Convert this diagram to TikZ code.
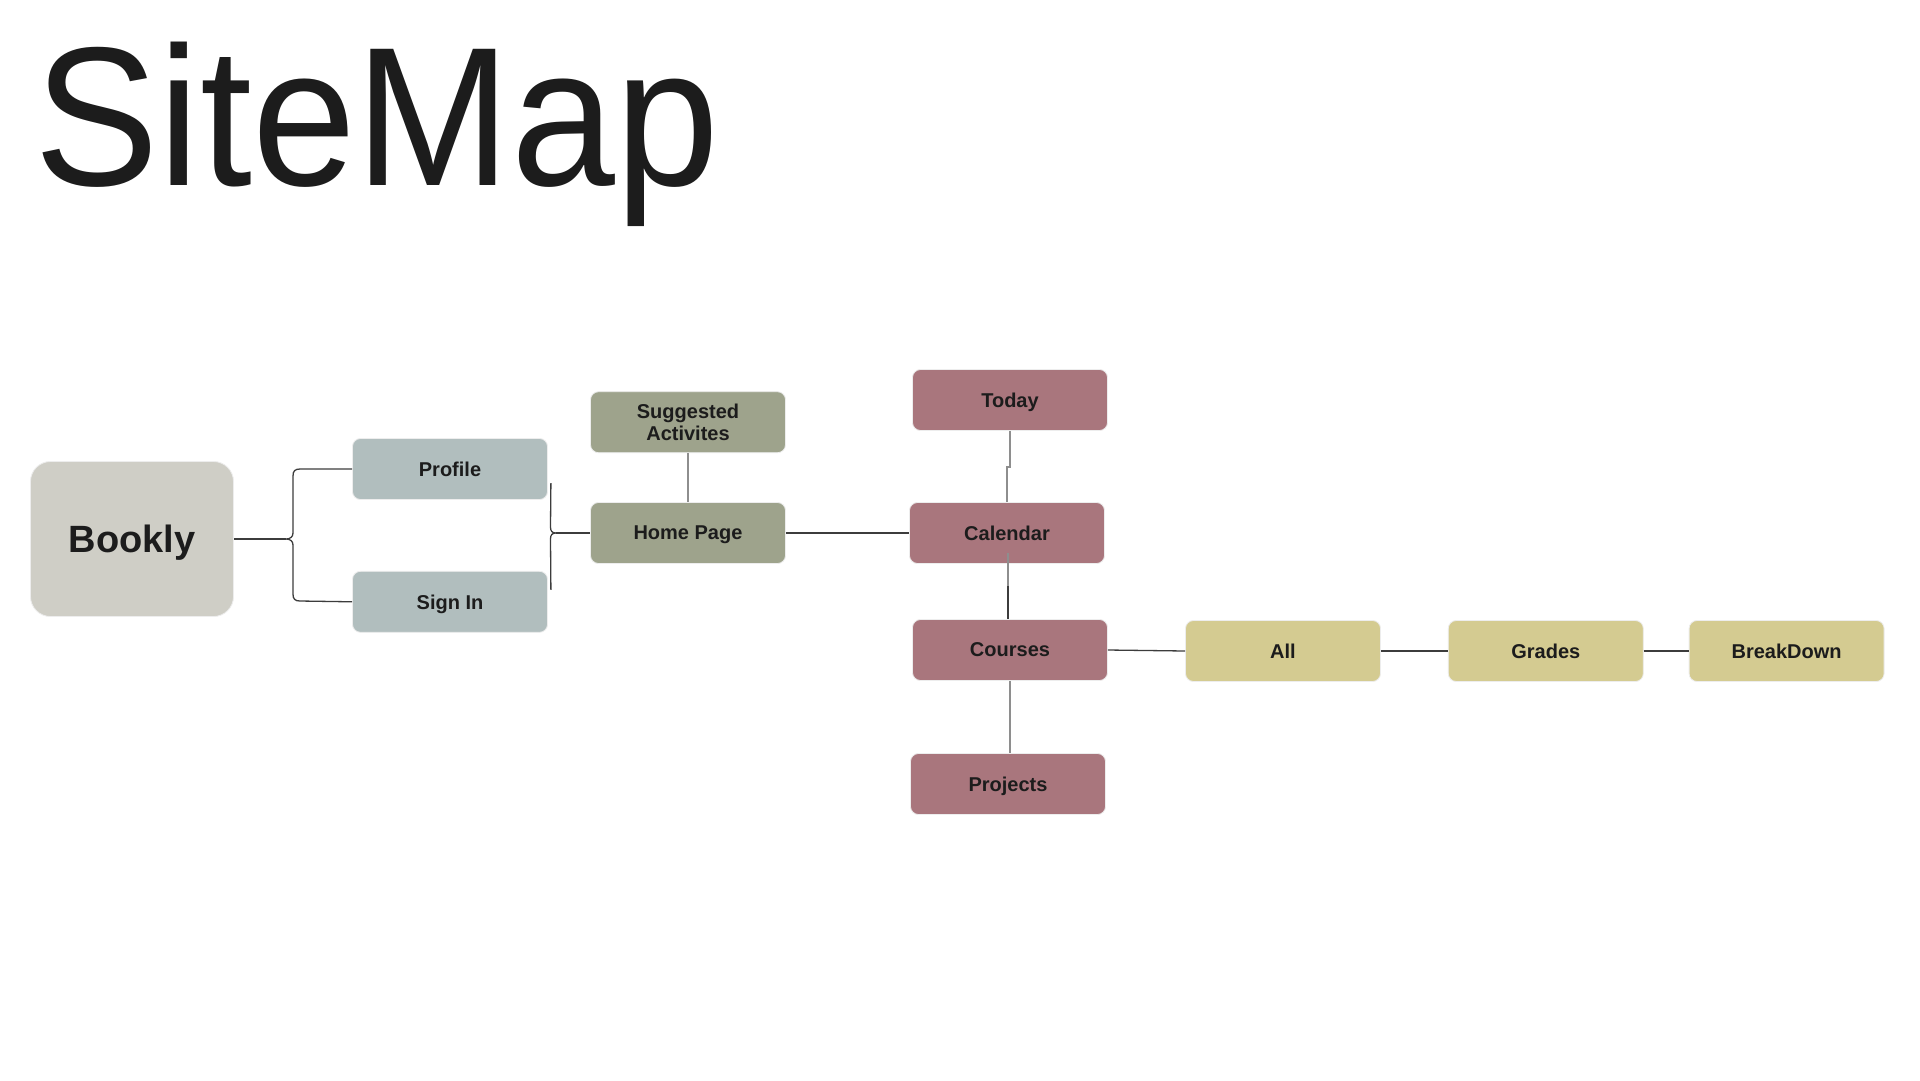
\documentclass[tikz,border=0pt]{standalone}
\usepackage{fontspec}
\setmainfont{Liberation Sans}
\usepackage{graphicx}
\usepackage{tikz}
\usetikzlibrary{positioning, calc}
\definecolor{bookgray}{HTML}{CFCEC6}
\definecolor{usergray}{HTML}{B1BEBE}
\definecolor{homegreen}{HTML}{9EA38C}
\definecolor{calrose}{HTML}{A9767D}
\definecolor{gradekhaki}{HTML}{D4CB91}
\definecolor{inkdark}{HTML}{1C1C1C}
\definecolor{linkdark}{HTML}{3C3C3C}
\definecolor{linkgray}{HTML}{8E8E8E}
\tikzstyle{page} = [rectangle, rounded corners=8pt, minimum width=195pt, minimum height=61pt, align=center, inner sep=0pt, text depth=0pt, draw=black!7, line width=0.8pt, text=inkdark, font=\fontsize{20}{22}\selectfont\bfseries]
\tikzstyle{root} = [page, rounded corners=20pt, minimum width=203pt, minimum height=155pt, fill=bookgray, font=\fontsize{38}{40}\selectfont\bfseries]
\tikzstyle{link} = [draw=linkdark, line width=1.3pt]
\tikzstyle{stem} = [draw=linkgray, line width=1.8pt]

\begin{document}
\begin{tikzpicture}[x=1pt, y=-1pt]
  \useasboundingbox[fill=white] (0,0) rectangle (1920,1080);
  % Tiêu đề
  \node[anchor=base west, inner sep=0pt, text=inkdark] (title) at (34,185) {\scalebox{0.943}[1]{\fontsize{198}{198}\selectfont SiteMap}};

  % Cột trái
  \node[root] (bookly) at (132,539) {Bookly};
  \node[page, fill=usergray] (profile) at (450,469) {Profile};
  \node[page, fill=usergray, below=71pt of profile] (signin) {Sign In};

  % Trang chủ
  \node[page, fill=homegreen] (home) at (688,533) {Home Page};
  \node[page, fill=homegreen, above=49pt of home] (suggested) {Suggested\\Activites};

  % Lịch
  \node[page, fill=calrose] (calendar) at (1007,533) {Calendar};
  \node[page, fill=calrose] (today) at (1010,400) {Today};
  \node[page, fill=calrose] (courses) at (1010,650) {Courses};
  \node[page, fill=calrose] (projects) at (1008,784) {Projects};

  % Hàng điểm
  \node[page, fill=gradekhaki] (all) at (1283,651) {All};
  \node[page, fill=gradekhaki, right=67pt of all] (grades) {Grades};
  \node[page, fill=gradekhaki, right=45pt of grades] (breakdown) {BreakDown};

  % Ngoặc trái
  \coordinate (tipL) at (286,539);
  \draw[link] (bookly.east) -- (tipL);
  \draw[link] (profile.west) -- (300,469) .. controls (295,469) and (293,471) .. (293,476) -- (293,533) .. controls (293,537) and (290,539) .. (tipL) .. controls (290,539) and (293,541) .. (293,545) -- (293,594) .. controls (293,599) and (295,601) .. (300,601) -- (signin.west);

  % Ngoặc phải
  \coordinate (tipR) at (556,533);
  \draw[link] (tipR) -- (home.west);
  \draw[link] ($(profile.east)+(3,14)$) -- (550.5,527) .. controls (550.5,531) and (552,533) .. (tipR) .. controls (552,533) and (550.5,535) .. (550.5,539) -- ($(signin.east)+(3,-12)$);

  % Nối dọc
  \draw[stem] (suggested) -- (home);
  \draw[link] (home) -- (calendar);
  \draw[stem] (today.south) -- ++(0,36) -| (calendar.north);
  \coordinate (calmid) at (1008,586);
  \draw[stem] ($(calendar.south)+(1,-11)$) -- (calmid);
  \draw[link] (calmid) -- (calmid |- courses.north);
  \draw[stem] (courses.south) -- (courses.south |- projects.north);

  % Nối ngang
  \draw[link] (courses.east) -- (all.west);
  \draw[link] (all) -- (grades);
  \draw[link] (grades) -- (breakdown);
\end{tikzpicture}
\end{document}
